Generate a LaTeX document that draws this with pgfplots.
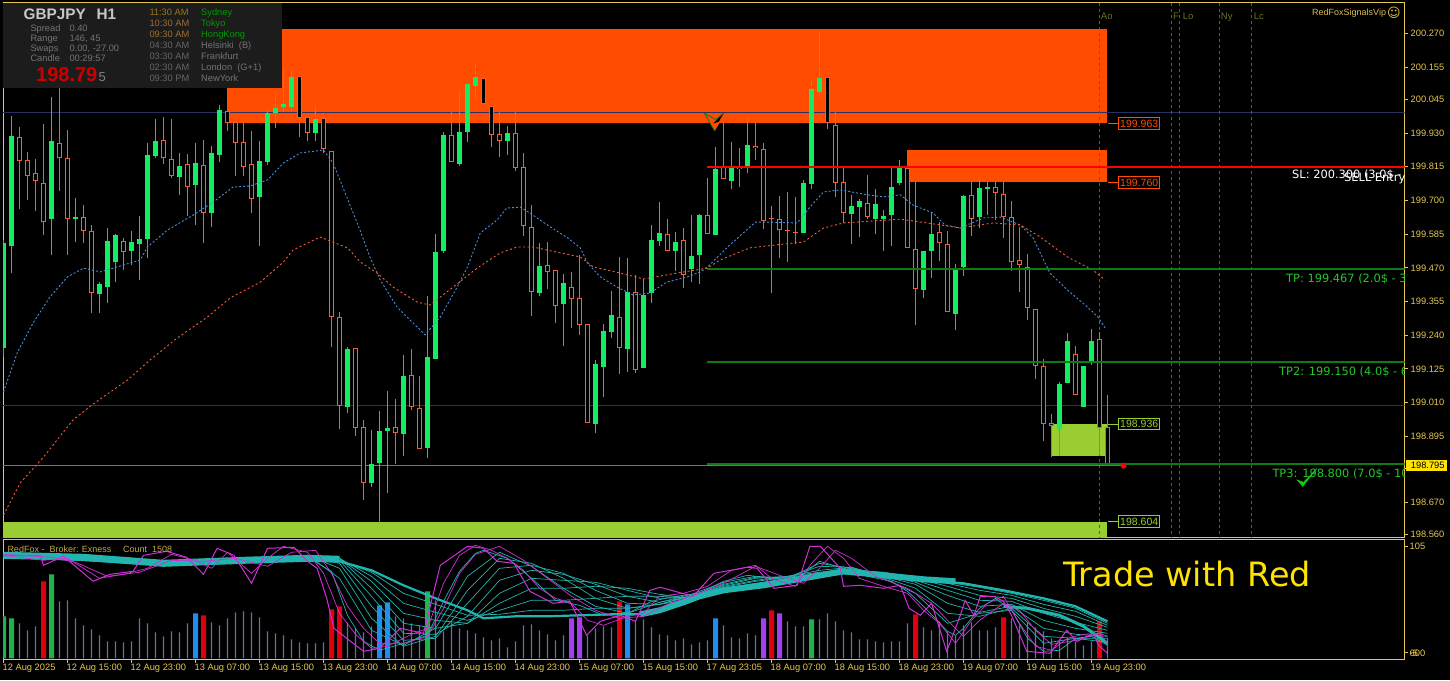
\documentclass[border=0pt]{standalone}
\usepackage{fontspec}
\usepackage{pgfplots}
\usepackage{pgfplotstable}
\pgfplotsset{compat=1.18}
\setmainfont{Liberation Sans}
\newfontfamily\dejavu{DejaVu Sans}

\definecolor{framec}{HTML}{E6C850}
\definecolor{bullc}{HTML}{14EC64}
\definecolor{bullw}{HTML}{4CB840}
\definecolor{bearc}{HTML}{F0603A}
\definecolor{zoneo}{HTML}{FF4C00}
\definecolor{zonel}{HTML}{9ACD32}
\definecolor{gridc}{HTML}{2A2E60}
\definecolor{sess}{HTML}{5A5A5A}
\definecolor{olivec}{HTML}{70702A}
\definecolor{maf}{HTML}{4A8ED8}
\definecolor{lvl}{HTML}{0E7A12}
\definecolor{tpc}{HTML}{22C82A}
\definecolor{volc}{HTML}{6E6AB0}
\definecolor{tealc}{HTML}{22B4AE}
\definecolor{mag}{HTML}{D030D8}
\definecolor{volg}{HTML}{22B14C}
\definecolor{volr}{HTML}{E00010}
\definecolor{volb}{HTML}{1E8CF0}
\definecolor{volp}{HTML}{A040F0}

\newcommand{\sz}[1]{\fontsize{#1}{#1}\selectfont}
% text helper: colour, font size, x px, baseline y px, text
\newcommand{\lab}[5]{\node[anchor=base west,inner sep=0pt,text=#1,font=\sz{#2}] at (#3pt,-#4pt) {#5};}

% x h t b l  (bar index, high, body top, body bottom, low)
\pgfplotstableread{
x h t b l
0 199.565 199.555 199.196 199.165
1 199.989 199.920 199.545 199.452
6 200.053 199.903 199.636 199.514
9 199.709 199.643 199.636 199.558
12 199.421 199.414 199.380 199.316
13 199.606 199.562 199.404 199.350
14 199.585 199.582 199.490 199.421
16 199.596 199.558 199.528 199.480
17 199.647 199.568 199.551 199.428
18 199.896 199.855 199.568 199.504
19 199.978 199.903 199.852 199.845
22 199.862 199.817 199.780 199.719
24 199.896 199.828 199.753 199.616
26 199.886 199.862 199.657 199.609
27 200.026 200.009 199.855 199.831
32 199.903 199.835 199.712 199.545
33 200.012 199.998 199.831 199.821
34 200.063 200.016 199.998 199.947
35 200.152 200.029 200.019 200.002
36 200.148 200.121 200.019 200.005
39 200.022 199.978 199.930 199.903
43 199.200 199.193 198.995 198.975
46 198.916 198.800 198.736 198.722
47 198.981 198.913 198.804 198.599
48 199.049 198.923 198.913 198.702
50 199.172 199.101 198.903 198.828
53 199.374 199.165 198.855 198.821
54 199.585 199.524 199.158 199.158
55 199.933 199.923 199.528 199.521
57 200.070 199.933 199.824 199.817
58 200.097 200.097 199.933 199.899
59 200.169 200.121 200.090 200.050
63 199.954 199.930 199.903 199.855
67 199.555 199.476 199.384 199.374
70 199.449 199.418 199.346 199.203
74 199.155 199.142 198.937 198.906
75 199.278 199.254 199.131 199.029
76 199.391 199.309 199.251 199.230
78 199.504 199.387 199.193 199.114
80 199.431 199.377 199.128 199.128
81 199.616 199.565 199.384 199.350
82 199.694 199.589 199.562 199.545
84 199.592 199.558 199.528 199.459
86 199.650 199.510 199.466 199.421
87 199.654 199.650 199.514 199.414
89 199.882 199.807 199.582 199.582
91 199.899 199.814 199.766 199.739
93 199.985 199.889 199.811 199.794
100 199.770 199.760 199.589 199.589
101 200.111 200.080 199.756 199.739
102 200.271 200.118 200.070 200.050
106 199.719 199.681 199.654 199.551
107 199.705 199.698 199.677 199.575
109 199.739 199.688 199.636 199.585
110 199.667 199.647 199.636 199.528
111 199.811 199.746 199.650 199.545
112 199.838 199.811 199.760 199.753
115 199.528 199.528 199.394 199.367
116 199.657 199.585 199.528 199.435
119 199.483 199.469 199.312 199.258
120 199.719 199.715 199.473 199.442
122 199.773 199.742 199.643 199.606
123 199.763 199.746 199.739 199.650
132 199.080 199.073 198.920 198.828
133 199.247 199.220 199.077 199.077
135 199.135 199.135 198.995 198.995
136 199.261 199.220 199.145 199.138
}\bull

\pgfplotstableread{
x h t b l
2 199.950 199.916 199.835 199.670
3 199.865 199.838 199.784 199.701
4 199.841 199.794 199.767 199.664
5 199.960 199.760 199.626 199.582
7 200.084 199.896 199.845 199.733
8 199.940 199.845 199.636 199.514
10 199.684 199.643 199.596 199.555
11 199.616 199.596 199.384 199.316
15 199.572 199.562 199.524 199.462
20 199.985 199.906 199.845 199.824
21 199.978 199.841 199.784 199.777
23 199.858 199.824 199.746 199.647
25 199.906 199.821 199.657 199.555
28 200.005 200.005 199.964 199.936
29 199.967 199.967 199.896 199.784
30 199.967 199.899 199.814 199.784
31 199.936 199.824 199.705 199.657
37 200.124 200.124 199.981 199.916
38 199.985 199.985 199.930 199.903
40 199.998 199.981 199.875 199.862
41 199.869 199.869 199.302 199.200
42 199.319 199.302 198.998 198.920
44 199.196 199.196 198.923 198.896
45 198.951 198.927 198.736 198.678
49 199.022 198.927 198.906 198.800
51 199.193 199.104 198.995 198.985
52 199.101 198.992 198.852 198.852
56 200.002 199.923 199.831 199.831
60 200.118 200.118 200.029 200.029
61 200.022 200.022 199.923 199.882
62 200.002 199.927 199.903 199.848
64 200.002 199.930 199.811 199.800
65 199.862 199.814 199.613 199.578
66 199.684 199.609 199.387 199.306
68 199.558 199.480 199.456 199.398
69 199.462 199.462 199.340 199.282
71 199.456 199.404 199.363 199.265
72 199.514 199.367 199.275 199.241
73 199.278 199.278 198.940 198.940
77 199.507 199.302 199.196 199.107
79 199.445 199.387 199.121 199.111
83 199.636 199.585 199.528 199.528
85 199.606 199.565 199.445 199.401
88 199.777 199.650 199.585 199.585
90 199.964 199.814 199.773 199.773
92 199.879 199.814 199.807 199.746
94 199.964 199.886 199.879 199.838
95 199.896 199.875 199.630 199.602
96 199.681 199.640 199.636 199.384
97 199.715 199.636 199.599 199.504
98 199.729 199.599 199.596 199.490
99 199.712 199.592 199.589 199.551
103 200.121 200.121 199.964 199.943
104 200.002 199.957 199.760 199.712
105 199.811 199.763 199.657 199.623
108 199.787 199.691 199.643 199.636
113 199.811 199.811 199.538 199.538
114 199.763 199.534 199.398 199.275
117 199.626 199.592 199.555 199.493
118 199.596 199.551 199.319 199.319
121 199.763 199.719 199.636 199.578
124 199.763 199.746 199.725 199.633
125 199.763 199.722 199.643 199.572
126 199.698 199.643 199.490 199.459
127 199.609 199.497 199.480 199.387
128 199.517 199.473 199.333 199.292
129 199.329 199.329 199.135 199.090
130 199.159 199.135 198.937 198.879
131 198.971 198.940 198.930 198.824
134 199.203 199.176 199.036 199.036
137 199.251 199.227 198.923 198.831
138 199.036 198.927 198.797 198.797
}\bear

% ribbon lines in the lower window: columns t2..t9 at common bars
\pgfplotstableread{
x t2 t3 t4 t5 t6 t7 t8 t9
0 102 102 102 103 103 103 103 103
20 93 94 94 94 94 95 95 95
38 103 103 102 102 101 101 100 100
42 80 90 95 98 100 100 100 98
46 28 40 52 62 70 77 82 86
50 13 12 18 25 35 45 55 65
54 30 22 20 24 30 38 46 54
58 82 68 55 42 35 35 38 43
62 106 100 90 78 65 55 48 44
66 92 95 93 88 80 70 58 48
70 70 80 85 84 78 70 58 48
74 52 60 68 74 76 72 60 50
78 45 50 55 62 68 70 62 50
82 56 54 54 56 60 64 62 54
86 64 63 62 62 61 60 60 59
90 76 74 73 72 71 70 69 68
94 82 81 80 78 77 75 74 73
98 80 81 82 82 81 80 79 78
102 95 92 88 86 85 84 83 82
106 90 91 91 90 89 88 87 86
110 80 81 82 84 85 86 86 84
114 65 70 74 76 78 80 81 80
118 35 45 55 63 68 72 75 76
122 45 42 46 52 58 63 68 71
126 48 50 52 54 57 60 63 65
130 15 22 30 38 45 50 54 58
134 20 20 24 30 36 42 47 50
138 16 20 22 25 28 31 33 35
}\ribbon

\pgfplotstableread{
x v
2 35
3 28
4 32
7 57
8 58
9 40
10 33
11 29
12 23
13 17
14 17
15 16
16 17
17 40
18 35
19 26
20 22
21 27
22 26
23 35
26 36
27 33
28 40
29 46
30 47
31 46
32 41
33 27
34 25
35 23
36 19
37 16
38 15
39 15
40 16
43 36
44 30
45 26
46 32
49 42
50 40
51 35
52 33
54 58
55 27
56 36
57 30
58 28
59 25
60 21
61 18
62 20
63 11
64 17
65 33
66 34
67 28
68 24
69 18
70 23
73 23
74 30
75 32
76 31
79 38
80 39
81 31
82 24
83 23
84 18
85 20
86 14
87 16
88 18
90 33
91 21
92 20
93 25
94 23
98 37
99 32
100 32
102 39
103 45
104 37
105 28
106 26
107 19
108 19
109 17
110 16
111 17
112 17
113 35
115 31
116 28
117 37
118 27
119 23
120 33
121 36
122 28
123 28
124 31
126 40
127 33
128 36
129 31
130 27
131 20
132 18
133 20
134 17
135 13
136 17
138 20
}\vol

\begin{document}
\begin{tikzpicture}
\useasboundingbox (0pt,0pt) rectangle (1450pt,-680pt);
\fill[black] (0pt,0pt) rectangle (1450pt,-680pt);

\begin{axis}[
    at={(3pt,-537pt)}, anchor=south west,
    scale only axis, width=1401.5pt, height=534.5pt,
    xmin=-0.0625, xmax=175.125, ymin=198.5512, ymax=200.3755,
    axis line style={framec, line width=1pt},
    xtick=\empty,
    ytick={200.27,200.155,200.045,199.93,199.815,199.7,199.585,199.47,199.355,199.24,199.125,199.01,198.895,198.785,198.67,198.56},
    yticklabels={200.270,200.155,200.045,199.930,199.815,199.700,199.585,199.470,199.355,199.240,199.125,199.010,198.895,198.785,198.670,198.560},
    ytick pos=right, yticklabel pos=right,
    tick align=outside, major tick length=3pt,
    tick style={framec, line width=1pt},
    yticklabel style={font=\sz{9.3}, text=framec, inner sep=0pt, anchor=west, xshift=3pt},
]
% zones
\addplot[fill=zoneo, draw=none] coordinates {(27.94,199.964) (137.94,199.964) (137.94,200.286) (27.94,200.286)} --cycle;
\addplot[fill=zoneo, draw=none] coordinates {(112.94,199.763) (137.94,199.763) (137.94,199.872) (112.94,199.872)} --cycle;
\addplot[fill=zonel, draw=none] coordinates {(131,198.829) (137.94,198.829) (137.94,198.936) (131,198.936)} --cycle;
\addplot[fill=zonel, draw=none] coordinates {(-1,198.5) (137.94,198.5) (137.94,198.604) (-1,198.604)} --cycle;
% round number lines
\addplot[gridc, line width=1pt] coordinates {(-1,200) (176,200)};
\addplot[gridc, line width=1pt] coordinates {(-1,199) (176,199)};
% session lines
\addplot[sess, line width=1pt, dash pattern=on 3pt off 3pt] coordinates {(137,198.5) (137,200.4)};
\addplot[sess, line width=1pt, dash pattern=on 3pt off 3pt] coordinates {(146,198.5) (146,200.4)};
\addplot[sess, line width=1pt, dash pattern=on 3pt off 3pt] coordinates {(147,198.5) (147,200.4)};
\addplot[sess, line width=1pt, dash pattern=on 3pt off 3pt] coordinates {(152,198.5) (152,200.4)};
\addplot[sess, line width=1pt, dash pattern=on 3pt off 3pt] coordinates {(156,198.5) (156,200.4)};
% price line
\addplot[color=black!55!white, line width=1.6pt] coordinates {(-1,198.795) (140,198.795)};

% wicks
\addplot[draw=none, mark=none, error bars/.cd, y dir=minus, y explicit, error mark=none,
    error bar style={draw=bullw, line width=1.3pt}]
    table[x=x, y=h, y error minus expr=\thisrow{h}-\thisrow{l}] {\bull};
\addplot[draw=none, mark=none, error bars/.cd, y dir=minus, y explicit, error mark=none,
    error bar style={draw=bearc, line width=1.3pt}]
    table[x=x, y=h, y error minus expr=\thisrow{h}-\thisrow{l}] {\bear};
% bodies
\addplot[draw=none, mark=none, error bars/.cd, y dir=minus, y explicit, error mark=none,
    error bar style={draw=bullc, line width=5pt}]
    table[x=x, y=t, y error minus expr=\thisrow{t}-\thisrow{b}] {\bull};
\addplot[draw=none, mark=none, error bars/.cd, y dir=minus, y explicit, error mark=none,
    error bar style={draw=bearc, line width=5.6pt}]
    table[x=x, y=t, y error minus expr=\thisrow{t}-\thisrow{b}] {\bear};
\addplot[draw=none, mark=none, error bars/.cd, y dir=minus, y explicit, error mark=none,
    error bar style={draw=black, line width=3pt}]
    table[x=x, y expr=\thisrow{t}-0.0034, y error minus expr={max(\thisrow{t}-\thisrow{b}-0.0068,0)}] {\bear};

% moving averages
\addplot[maf, line width=0.9pt, dash pattern=on 2pt off 2pt] coordinates {
(0,199.046) (1.7,199.179) (3.7,199.282) (5.8,199.370) (8,199.439) (10,199.469) (12.1,199.456) (14.2,199.473)
(17.1,199.497) (18,199.541) (20.5,199.599) (23.7,199.650) (26.2,199.694) (28.7,199.746) (30.8,199.749) (33,199.770)
(35,199.828) (37.1,199.862) (40,199.872) (41.2,199.828) (44.6,199.596) (45.8,199.507) (47.1,199.428) (49.2,199.336)
(51.7,199.268) (52.7,199.241) (54.6,199.302) (56.7,199.404) (58,199.473) (59.6,199.589) (61.7,199.633) (62.9,199.674)
(64.6,199.677) (65.8,199.657) (68,199.616) (70.5,199.572) (72.1,199.538) (73,199.486) (74.6,199.439) (76.7,199.404)
(78.7,199.377) (80.8,199.384) (82.9,199.421) (85.5,199.439) (87.1,199.456) (88,199.473) (90.8,199.548) (94,199.626)
(95.8,199.626) (99.2,199.623) (100.8,199.677) (102.5,199.729) (104.6,199.736) (108,199.719) (110,199.712) (112.1,199.719)
(113.7,199.684) (116.2,199.657) (117.7,199.616) (119.6,199.606) (122.5,199.640) (124.6,199.643) (127.1,199.616)
(128.7,199.572) (130.8,199.452) (133,199.394) (135.5,199.336) (136.8,199.302) (137.7,199.265)};
\addplot[bearc, line width=0.9pt, dash pattern=on 2pt off 2.5pt] coordinates {
(0,198.626) (2.1,198.736) (5,198.824) (8.7,198.951) (11.2,199.005) (15.5,199.087) (18.3,199.155) (21.7,199.230)
(25.5,199.302) (28.3,199.367) (32.1,199.421) (35,199.490) (36.2,199.531) (39.6,199.575) (43,199.538) (44.6,199.490)
(46.7,199.452) (48.7,199.404) (51.7,199.353) (53.3,199.343) (56.2,199.404) (59.2,199.469) (62.1,199.521) (64.2,199.541)
(66.2,199.541) (69.6,199.521) (72.1,199.507) (73.7,199.473) (77.1,199.452) (80,199.432) (84.2,199.452) (88,199.469)
(89.6,199.497) (93.3,199.538) (97.5,199.551) (100,199.558) (102.5,199.606) (105,199.623) (108.7,199.630) (112.1,199.636)
(115.5,199.623) (119.6,199.606) (123.7,199.623) (127.1,199.616) (129.6,199.575) (133,199.507) (136.2,199.462) (137.7,199.428)};

% trade levels
\addplot[red, line width=2pt] coordinates {(87.94,199.815) (176,199.815)};
\addplot[lvl, line width=2pt] coordinates {(87.94,199.467) (176,199.467)};
\addplot[lvl, line width=2pt] coordinates {(87.94,199.150) (176,199.150)};
\addplot[lvl, line width=2pt] coordinates {(87.94,198.800) (176,198.800)};
\addplot[only marks, mark=*, mark size=2.8pt, mark options={fill=red, draw=red}] coordinates {(140,198.795)};

% sell arrow
\addplot[fill=zoneo, draw=none] coordinates {(88.3,199.964) (89.5,199.964) (88.9,199.937)} --cycle;
\addplot[fill=black, draw=none] coordinates {(88.7,199.963) (90,199.997) (89.4,199.968)} --cycle;
\addplot[color=lvl, line width=0.8pt] coordinates {(87.6,199.998) (89,199.976) (90,199.998)};
\addplot[color=lvl, line width=0.8pt] coordinates {(87.6,199.998) (88.9,199.937)};
% tick mark at TP3
\addplot[fill=green!85!black, draw=green!85!black, line width=0.4pt] coordinates {(161.7,198.746) (162.4,198.724) (164.2,198.786) (162.5,198.738)} --cycle;
\end{axis}

\begin{axis}[
    at={(3pt,-659.5pt)}, anchor=south west,
    scale only axis, width=1401.5pt, height=120pt,
    xmin=-0.0625, xmax=175.125, ymin=-1.2, ymax=118.8,
    axis line style={framec, line width=1pt},
    xtick={0,8,...,136},
    xticklabels={12 Aug 2025,12 Aug 15:00,12 Aug 23:00,13 Aug 07:00,13 Aug 15:00,13 Aug 23:00,14 Aug 07:00,14 Aug 15:00,14 Aug 23:00,15 Aug 07:00,15 Aug 15:00,17 Aug 23:05,18 Aug 07:00,18 Aug 15:00,18 Aug 23:00,19 Aug 07:00,19 Aug 15:00,19 Aug 23:00},
    ytick={111.8,5.5},
    yticklabels={105,600},
    xtick pos=bottom, ytick pos=right, yticklabel pos=right,
    tick align=outside, major tick length=3pt,
    tick style={framec, line width=1pt},
    yticklabel style={font=\sz{9.3}, text=framec, inner sep=0pt, anchor=west, xshift=2pt},
    xticklabel style={font=\sz{9.3}, text=framec, inner sep=0pt, anchor=north west, xshift=-1pt, yshift=-1pt},
]
% volume
\addplot[ybar, bar width=1.3pt, bar shift=0pt, fill=volc, draw=none] table[x=x, y=v] {\vol};
\addplot[ybar, bar width=5pt, bar shift=0pt, fill=volg, draw=none] coordinates {(0,42) (1,40) (6,84) (53,67) (101,39)};
\addplot[ybar, bar width=5pt, bar shift=0pt, fill=volr, draw=none] coordinates {(5,77) (25,43) (41,49) (42,52) (77,57) (96,48) (114,44) (125,41) (137,37)};
\addplot[ybar, bar width=5pt, bar shift=0pt, fill=volb, draw=none] coordinates {(24,45) (47,53) (48,56) (78,54) (89,40)};
\addplot[ybar, bar width=5pt, bar shift=0pt, fill=volp, draw=none] coordinates {(71,40) (72,41) (95,40) (97,45)};

% thin ribbon lines
\pgfplotsinvokeforeach{t2,t3,t4,t5,t6,t7,t8,t9}{
  \addplot[tealc, line width=0.7pt] table[x=x, y=#1] {\ribbon};
}
\addplot[tealc, line width=0.7pt] coordinates {(0,102) (10,102) (20,93) (30,99) (38,101) (41,87) (43,43) (45,17) (47,8) (50,15) (53,23) (55,57) (57,87) (59,105) (60,108) (63,100) (66,80) (69,58) (72,53) (75,43) (78,45) (81,57) (84,62) (87,65) (90,77) (93,83) (96,80) (99,78) (102,97) (105,90) (108,82) (111,77) (113,67) (115,52) (118,27) (119,23) (120,30) (122,50) (124,60) (126,48) (128,20) (130,7) (132,8) (134,20) (136,22) (138,13)};
% slowest line and the thick part of the band
\addplot[tealc, line width=2.2pt] coordinates {(0,103) (10,100) (20,95) (30,98) (38,100) (42,97) (46,88) (50,73) (54,60) (58,48) (60,40) (64,42) (68,42) (72,43) (76,44) (79.6,44) (82,48) (85,56) (87,62) (90,68) (95,73) (100,80) (105,85) (110,82) (115,78) (120,75) (125,68) (130,60) (134,52) (138,37)};
\addplot[tealc, line width=7pt] coordinates {(0,103) (10,101) (20,95) (30,98) (38,100) (42,99)};
\addplot[tealc, line width=6pt] coordinates {(79.6,44) (82,48) (85,56) (87,62) (90,68) (95,73) (100,80) (105,87) (110,83) (115,79) (119,77)};
\addplot[tealc, line width=3pt] coordinates {(125,52) (128,50) (132,43) (135,32) (138,15)};
% fast lines
\addplot[mag, line width=0.7pt] coordinates {(0,104) (6,101) (9,96) (13,82) (17,86) (21,98) (25,97) (29,100) (33,92) (36,106) (39,108) (41,85) (43,52) (45,30) (47,15) (50,15) (53,22) (55,50) (57,85) (59,104) (62,112) (65,98) (68,80) (71,62) (74,48) (77,40) (80,42) (83,54) (87,65) (90,75) (94,92) (97,83) (100,75) (102,90) (104,108) (106,100) (109,82) (113,70) (116,55) (118,38) (120,22) (122,38) (125,55) (127,48) (129,28) (131,14) (134,18) (137,25) (138,22)};
\addplot[mag, line width=0.7pt] coordinates {(0,103) (5,98) (8,100) (12,80) (15,84) (18,90) (21,104) (24,98) (26,90) (28,106) (31,85) (33,100) (35,112) (38,106) (40,85) (42,45) (44,24) (46,10) (48,12) (51,24) (53,30) (55,75) (57,103) (59,113) (61,108) (63,100) (65,88) (67,70) (69,60) (71,55) (73,38) (75,33) (78,42) (80,45) (82,62) (85,65) (88,72) (91,88) (94,93) (96,80) (99,72) (101,95) (103,112) (105,100) (107,80) (110,72) (113,65) (115,48) (117,35) (119,15) (121,38) (123,55) (125,62) (127,35) (129,12) (131,8) (133,20) (135,24) (137,25) (138,15)};
\addplot[mag, line width=1pt] coordinates {(0,103) (4.6,103) (5,93) (7.5,102) (11.2,77) (13.3,84) (16.2,87) (17.5,103) (20.4,107) (22.9,101) (25,84) (26.7,110) (28.8,103) (31,75) (33,110) (36.3,111) (38,97) (39.2,90) (40.4,60) (41.3,30) (42.9,20) (45,7) (47,10) (49.6,30) (52.5,25) (54.6,93) (58,112) (60,110) (61.7,97) (63.8,95) (65.8,67) (68.7,55) (70.8,57) (72.9,23) (74.6,37) (77.1,43) (79,37) (80.8,68) (82.1,71) (86.2,62) (88.8,85) (93,91) (94.2,90) (96.3,70) (99.2,73) (100.8,112) (102.1,112) (104.6,90) (105,72) (107.1,73) (110,70) (112.1,73) (113.2,50) (114.6,43) (116,55) (117.9,7) (119.6,43) (120.2,58) (121.3,43) (122.1,62) (123.8,62) (125,57) (126,43) (127.9,7) (130.8,5) (132.9,28) (134.2,17) (136.2,25) (136.9,13) (138,5)};
\end{axis}

% info panel
\fill[black!89!white] (3pt,-3pt) rectangle (282pt,-88pt);
\node[anchor=base west,inner sep=0pt,text=black!22!white,font=\sz{15.3}\bfseries] at (23.5pt,-19pt) {GBPJPY};
\node[anchor=base west,inner sep=0pt,text=black!22!white,font=\sz{15.3}\bfseries] at (96.5pt,-19pt) {H1};
\lab{black!55!white}{9.3}{30.3}{31}{Spread}
\lab{black!55!white}{9.3}{30.3}{41}{Range}
\lab{black!55!white}{9.3}{30.3}{51}{Swaps}
\lab{black!55!white}{9.3}{30.3}{61}{Candle}
\lab{black!55!white}{9.3}{69.3}{31}{0.40}
\lab{black!55!white}{9.3}{69.3}{41}{146, 45}
\lab{black!55!white}{9.3}{69.3}{51}{0.00, -27.00}
\lab{black!55!white}{9.3}{69.3}{61}{00:29:57}
\node[anchor=base west,inner sep=0pt,text=red!80!black,font=\sz{20}\bfseries] at (36pt,-81.5pt) {198.79};
\lab{black!50!white}{13}{98.5}{81}{5}
\lab{olivec!70!orange}{9.3}{149.3}{15}{11:30 AM}
\lab{orange!55!black!80!white}{9.3}{149.3}{26}{10:30 AM}
\lab{orange!55!black!80!white}{9.3}{149.3}{37}{09:30 AM}
\lab{black!60!white}{9.3}{149.3}{48}{04:30 AM}
\lab{black!60!white}{9.3}{149.3}{59}{03:30 AM}
\lab{black!60!white}{9.3}{149.3}{70}{02:30 AM}
\lab{black!60!white}{9.3}{149.3}{81}{09:30 PM}
\lab{green!60!black}{9.3}{201}{15}{Sydney}
\lab{green!60!black}{9.3}{201}{26}{Tokyo}
\lab{green!60!black}{9.3}{201}{37}{HongKong}
\lab{black!55!white}{9.3}{201}{48}{Helsinki\ \ (B)}
\lab{black!55!white}{9.3}{201}{59}{Frankfurt}
\lab{black!55!white}{9.3}{201}{70}{London\ \ (G+1)}
\lab{black!55!white}{9.3}{201}{81}{NewYork}

% session labels and signature
\lab{olivec}{9.5}{1100.7}{19.5}{Ao}
\lab{olivec}{9.5}{1173}{19.5}{F}
\lab{olivec}{9.5}{1182.7}{19.5}{Lo}
\lab{olivec}{9.5}{1220.7}{19.5}{Ny}
\lab{olivec}{9.5}{1253.7}{19.5}{Lc}
\lab{framec!95!black}{9}{1312}{15}{RedFoxSignalsVip}
\node[anchor=base west,inner sep=0pt,text=framec,font=\dejavu\sz{13}] at (1387pt,-17pt) {☺};

% zone value tags
\foreach \yy/\col/\val in {123.5/zoneo/199.963,182.5/zoneo/199.760,424/zonel/198.936,521.5/zonel/198.604}{
  \draw[\col, line width=0.8pt] (1108pt,-\yy pt) -- (1118pt,-\yy pt);
  \node[draw=\col, fill=black, text=\col, line width=0.8pt, anchor=west, minimum width=41pt, minimum height=11.5pt,
        inner sep=0pt, font=\sz{10.5}] at (1118.3pt,-\yy pt) {\val};
}

% trade texts, cut at the right frame
\begin{scope}
\clip (3pt,-3pt) rectangle (1404pt,-537pt);
\node[anchor=base west,inner sep=0pt,text=white,font=\dejavu\sz{11.4}] at (1292pt,-178pt) {SL: 200.300 (3.0\$ - 5.0\%)};
\node[anchor=base west,inner sep=0pt,text=white,font=\dejavu\sz{11.4}] at (1344pt,-181pt) {SELL Entry};
\node[anchor=base west,inner sep=0pt,text=tpc,font=\dejavu\sz{11.4}] at (1286pt,-282pt) {TP: 199.467 (2.0\$ - 3.0\%)};
\node[anchor=base west,inner sep=0pt,text=tpc,font=\dejavu\sz{11.4}] at (1279pt,-375pt) {TP2: 199.150 (4.0\$ - 6.0\%)};
\node[anchor=base west,inner sep=0pt,text=tpc,font=\dejavu\sz{11.4}] at (1272.3pt,-477pt) {TP3: 198.800 (7.0\$ - 10.0\%)};
\end{scope}

% current price tag
\fill[yellow!85!orange] (1406pt,-460.3pt) rectangle (1446.7pt,-471pt);
\node[anchor=base west,inner sep=0pt,text=black,font=\sz{9.3}] at (1410.7pt,-468.8pt) {198.795};

% lower window texts
\lab{framec!85!black}{9}{7.3}{552}{RedFox -\ \ Broker: Exness}
\lab{framec!85!black}{9}{123}{552}{Count\ \ 1508}
\lab{framec}{9.3}{1409.5}{656.3}{-5}
\node[anchor=base west,inner sep=0pt,text=yellow!85!orange,font=\dejavu\sz{33.5}] at (1063pt,-586.7pt) {Trade with Red};
\end{tikzpicture}
\end{document}
